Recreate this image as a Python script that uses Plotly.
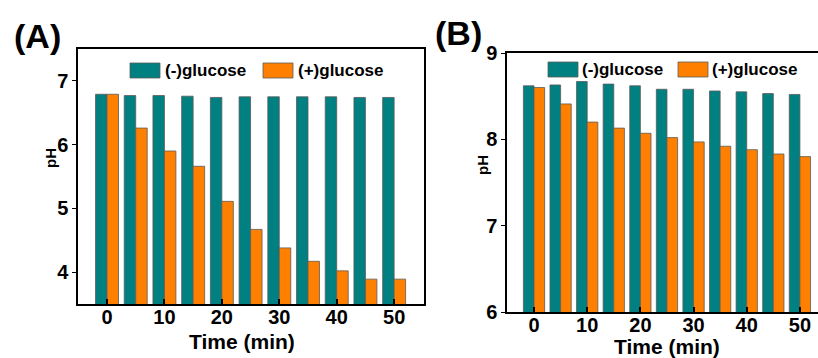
import plotly.graph_objects as go

W, H = 818, 358

time_min = [0, 5, 10, 15, 20, 25, 30, 35, 40, 45, 50]
ph_a_minus = [6.79, 6.77, 6.77, 6.76, 6.74, 6.75, 6.75, 6.75, 6.75, 6.74, 6.74]
ph_a_plus = [6.79, 6.26, 5.90, 5.66, 5.11, 4.67, 4.38, 4.17, 4.02, 3.89, 3.89]
ph_b_minus = [8.62, 8.63, 8.67, 8.64, 8.62, 8.58, 8.58, 8.56, 8.55, 8.53, 8.52]
ph_b_plus = [8.60, 8.41, 8.20, 8.13, 8.07, 8.02, 7.97, 7.92, 7.88, 7.83, 7.80]
series_names = ["(-)glucose", "(+)glucose"]
x_ticks = [0, 10, 20, 30, 40, 50]

TEAL = "#008080"
ORANGE = "#FF8000"
FONT = "Liberation Sans, Arial, sans-serif"

def px(x):
    return x / W

def py(y):
    return 1 - y / H

fig = go.Figure()
for xa, ya, vals in [("x", "y", (ph_a_minus, ph_a_plus)), ("x2", "y2", (ph_b_minus, ph_b_plus))]:
    for name, v, c in zip(series_names, vals, [TEAL, ORANGE]):
        fig.add_trace(go.Bar(x=time_min, y=v, name=name, xaxis=xa, yaxis=ya,
                             marker=dict(color=c, line=dict(color="#5a5a5a", width=0.8)),
                             showlegend=False))

axis_common = dict(showline=True, linecolor="black", linewidth=1.5, mirror=True,
                   showgrid=False, zeroline=False, automargin=False,
                   tickfont=dict(family=FONT, size=20, color="black", weight="bold"))

fig.update_layout(
    width=W, height=H, margin=dict(l=0, r=0, t=0, b=0, autoexpand=False),
    paper_bgcolor="white", plot_bgcolor="white",
    barmode="group", bargap=0.2, bargroupgap=0,
    font=dict(family=FONT, color="black"),
    xaxis=dict(domain=[px(78), px(424)], range=[-5.05, 55.2], tickvals=x_ticks,
               ticks="inside", ticklen=5, tickwidth=2, tickcolor="black", anchor="y",
               ticklabelstandoff=-6, **axis_common),
    yaxis=dict(domain=[py(304), py(49)], range=[3.5, 7.5], tickvals=[4, 5, 6, 7],
               ticks="outside", ticklen=4, tickwidth=1, tickcolor="black", anchor="x", **axis_common),
    xaxis2=dict(domain=[px(507), 1.0], range=[-5.08, 53.4], tickvals=x_ticks,
                ticks="inside", ticklen=5, tickwidth=2, tickcolor="black", anchor="y2",
                ticklabelstandoff=-6, **axis_common),
    yaxis2=dict(domain=[py(312), py(53)], range=[6, 9], tickvals=[6, 7, 8, 9],
                ticks="outside", ticklen=4, tickwidth=1, tickcolor="black", anchor="x2", **axis_common),
)

ann = []
shapes = []
bold = dict(family=FONT, color="black", weight="bold")
# panel labels
ann.append(dict(text="(A)", x=px(37), y=py(36), font=dict(size=34, **bold)))
ann.append(dict(text="(B)", x=px(458), y=py(33), font=dict(size=34, **bold)))
# axis titles
ann.append(dict(text="Time (min)", x=px(242), y=py(341), font=dict(size=21, **bold)))
ann.append(dict(text="Time (min)", x=px(667), y=py(346), font=dict(size=21, **bold)))
ann.append(dict(text="pH", x=px(51), y=py(158), textangle=-90, font=dict(size=15, **bold)))
ann.append(dict(text="pH", x=px(482), y=py(165), textangle=-90, font=dict(size=15, **bold)))

# manual legends
for (sx, tx, sy0, sy1) in [((130, 263), (163, 296), 63, 78), ((548, 678), (580, 710), 62, 77)]:
    for s, t, name, c in zip(sx, tx, series_names, [TEAL, ORANGE]):
        shapes.append(dict(type="rect", xref="paper", yref="paper",
                           x0=px(s), x1=px(s + 30), y0=py(sy1), y1=py(sy0),
                           fillcolor=c, line=dict(color="#5a5a5a", width=0.8)))
        ann.append(dict(text=name, x=px(t), y=py((sy0 + sy1) / 2), xanchor="left",
                        font=dict(size=17, **bold)))

for a in ann:
    a.setdefault("xanchor", "center")
    a.update(xref="paper", yref="paper", yanchor="middle", showarrow=False)
fig.update_layout(annotations=ann, shapes=shapes)

fig.write_html("out.html", config={"displayModeBar": False},
               post_script="document.body.style.margin='0';document.body.style.overflow='hidden';")
